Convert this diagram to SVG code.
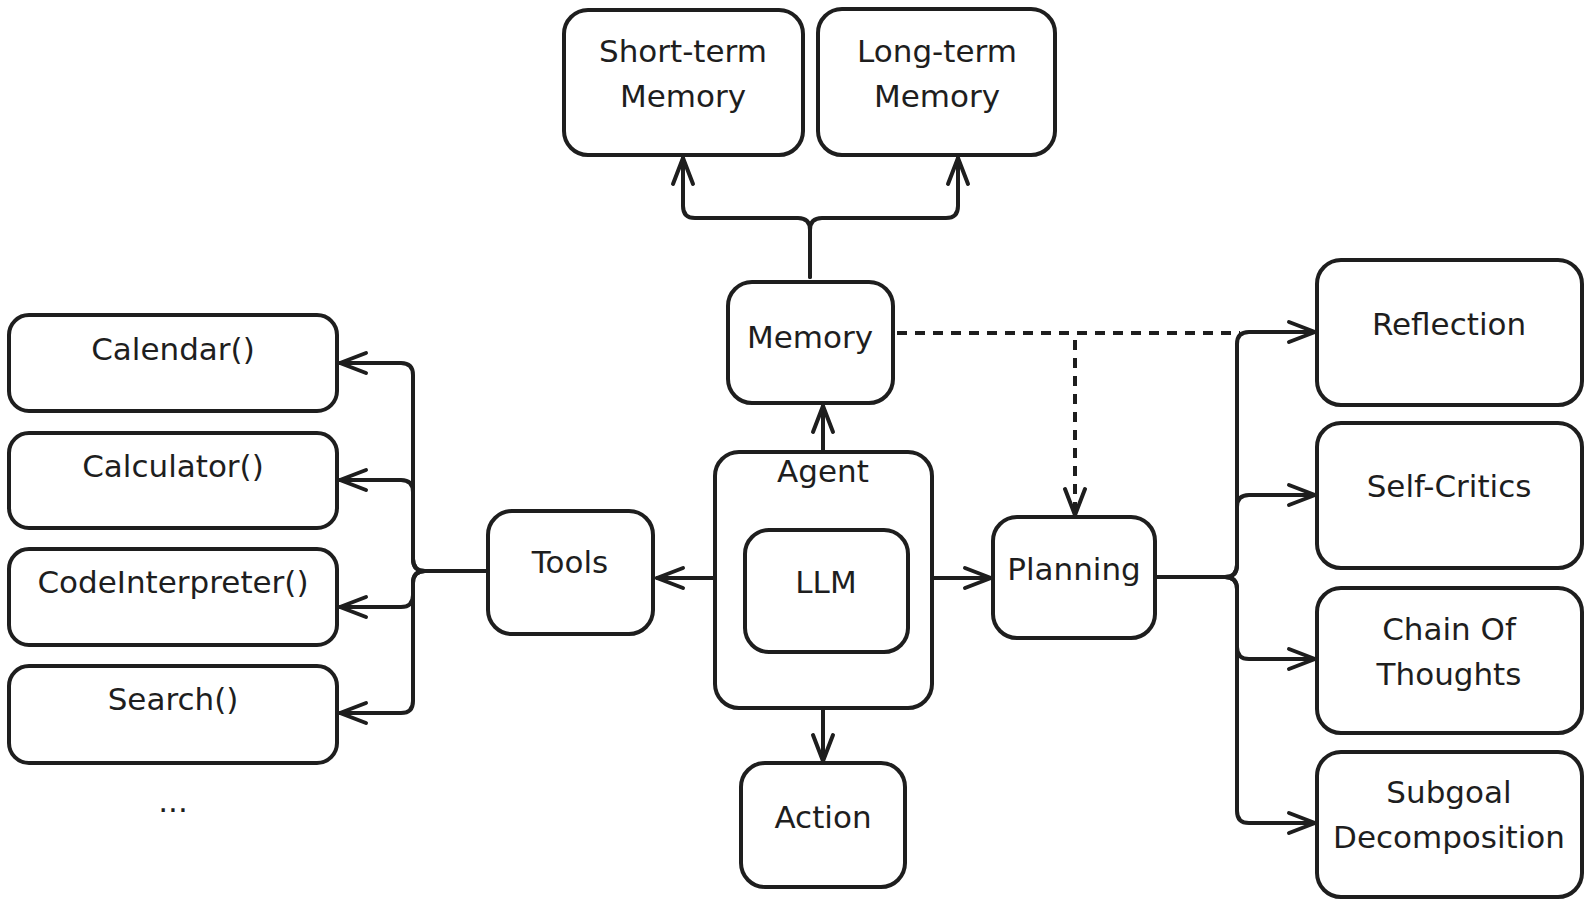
<svg xmlns="http://www.w3.org/2000/svg" width="1591" height="906" viewBox="0 0 1591 906">
<style>
  .box { fill: #ffffff; stroke: #1e1e1e; stroke-width: 4; }
  .lbl { font-family: "DejaVu Sans", "Liberation Sans", sans-serif; font-size: 31px; fill: #1e1e1e; text-anchor: middle; }
  .conn { fill: none; stroke: #1e1e1e; stroke-width: 4; stroke-linecap: round; stroke-linejoin: round; }
  .dash { stroke-dasharray: 10 8; stroke-linecap: butt; }
</style>
<defs>
  <marker id="arr" markerUnits="userSpaceOnUse" markerWidth="40" markerHeight="40" viewBox="-32 -16 40 32" refX="0" refY="0" orient="auto">
    <path d="M-26,-10 L0,0 L-26,10" fill="none" stroke="#1e1e1e" stroke-width="4" stroke-linecap="round" stroke-linejoin="round"/>
  </marker>
</defs>
<rect width="1591" height="906" fill="#ffffff"/>

<g id="connectors">
  <path class="conn" d="M810,277 V230 Q810,218 798,218 H695 Q683,218 683,206 V158" marker-end="url(#arr)"/>
  <path class="conn" d="M810,277 V230 Q810,218 822,218 H946 Q958,218 958,206 V158" marker-end="url(#arr)"/>
  <path class="conn" d="M823,452 V406" marker-end="url(#arr)"/>
  <path class="conn" d="M715,578 H657" marker-end="url(#arr)"/>
  <path class="conn" d="M932,578 H991" marker-end="url(#arr)"/>
  <path class="conn" d="M823,708 V761" marker-end="url(#arr)"/>
  <path class="conn" d="M488,571 H425 Q413,571 413,559 V375 Q413,363 401,363 H340" marker-end="url(#arr)"/>
  <path class="conn" d="M488,571 H425 Q413,571 413,559 V492 Q413,480 401,480 H340" marker-end="url(#arr)"/>
  <path class="conn" d="M488,571 H425 Q413,571 413,583 V595 Q413,607 401,607 H340" marker-end="url(#arr)"/>
  <path class="conn" d="M488,571 H425 Q413,571 413,583 V701 Q413,713 401,713 H340" marker-end="url(#arr)"/>
  <path class="conn" d="M1157,577 H1225 Q1237,577 1237,565 V344 Q1237,332 1249,332 H1315" marker-end="url(#arr)"/>
  <path class="conn" d="M1157,577 H1225 Q1237,577 1237,565 V507 Q1237,495 1249,495 H1315" marker-end="url(#arr)"/>
  <path class="conn" d="M1157,577 H1225 Q1237,577 1237,589 V647 Q1237,659 1249,659 H1315" marker-end="url(#arr)"/>
  <path class="conn" d="M1157,577 H1225 Q1237,577 1237,589 V811 Q1237,823 1249,823 H1315" marker-end="url(#arr)"/>
  <path class="conn dash" d="M897,333 H1240"/>
  <path class="conn dash" d="M1075,340 V515" marker-end="url(#arr)"/>
</g>

<g id="short-term-memory">
  <rect class="box" x="564" y="10" width="239" height="145" rx="24"/>
  <text class="lbl" x="683" y="62">Short-term</text>
  <text class="lbl" x="683" y="107">Memory</text>
</g>
<g id="long-term-memory">
  <rect class="box" x="818" y="9" width="237" height="146" rx="24"/>
  <text class="lbl" x="937" y="62">Long-term</text>
  <text class="lbl" x="937" y="107">Memory</text>
</g>
<g id="memory">
  <rect class="box" x="728" y="282" width="165" height="121" rx="24"/>
  <text class="lbl" x="810" y="348">Memory</text>
</g>
<g id="agent">
  <rect class="box" x="715" y="452" width="217" height="256" rx="24"/>
  <text class="lbl" x="823" y="482">Agent</text>
</g>
<g id="llm">
  <rect class="box" x="745" y="530" width="163" height="122" rx="24"/>
  <text class="lbl" x="826" y="593">LLM</text>
</g>
<g id="planning">
  <rect class="box" x="993" y="517" width="162" height="121" rx="24"/>
  <text class="lbl" x="1074" y="580">Planning</text>
</g>
<g id="tools">
  <rect class="box" x="488" y="511" width="165" height="123" rx="24"/>
  <text class="lbl" x="570" y="573">Tools</text>
</g>
<g id="action">
  <rect class="box" x="741" y="763" width="164" height="124" rx="24"/>
  <text class="lbl" x="823" y="828">Action</text>
</g>
<g id="calendar">
  <rect class="box" x="9" y="315" width="328" height="96" rx="20"/>
  <text class="lbl" x="173" y="360">Calendar()</text>
</g>
<g id="calculator">
  <rect class="box" x="9" y="433" width="328" height="95" rx="20"/>
  <text class="lbl" x="173" y="477">Calculator()</text>
</g>
<g id="code-interpreter">
  <rect class="box" x="9" y="549" width="328" height="96" rx="20"/>
  <text class="lbl" x="173" y="593">CodeInterpreter()</text>
</g>
<g id="search">
  <rect class="box" x="9" y="666" width="328" height="97" rx="20"/>
  <text class="lbl" x="173" y="710">Search()</text>
</g>
<g id="more">
  <text class="lbl" x="173" y="812">...</text>
</g>
<g id="reflection">
  <rect class="box" x="1317" y="260" width="265" height="145" rx="24"/>
  <text class="lbl" x="1449" y="335">Reflection</text>
</g>
<g id="self-critics">
  <rect class="box" x="1317" y="423" width="265" height="145" rx="24"/>
  <text class="lbl" x="1449" y="497">Self-Critics</text>
</g>
<g id="chain-of-thoughts">
  <rect class="box" x="1317" y="588" width="265" height="145" rx="24"/>
  <text class="lbl" x="1449" y="640">Chain Of</text>
  <text class="lbl" x="1449" y="685">Thoughts</text>
</g>
<g id="subgoal-decomposition">
  <rect class="box" x="1317" y="752" width="265" height="145" rx="24"/>
  <text class="lbl" x="1449" y="803">Subgoal</text>
  <text class="lbl" x="1449" y="848">Decomposition</text>
</g>
</svg>
